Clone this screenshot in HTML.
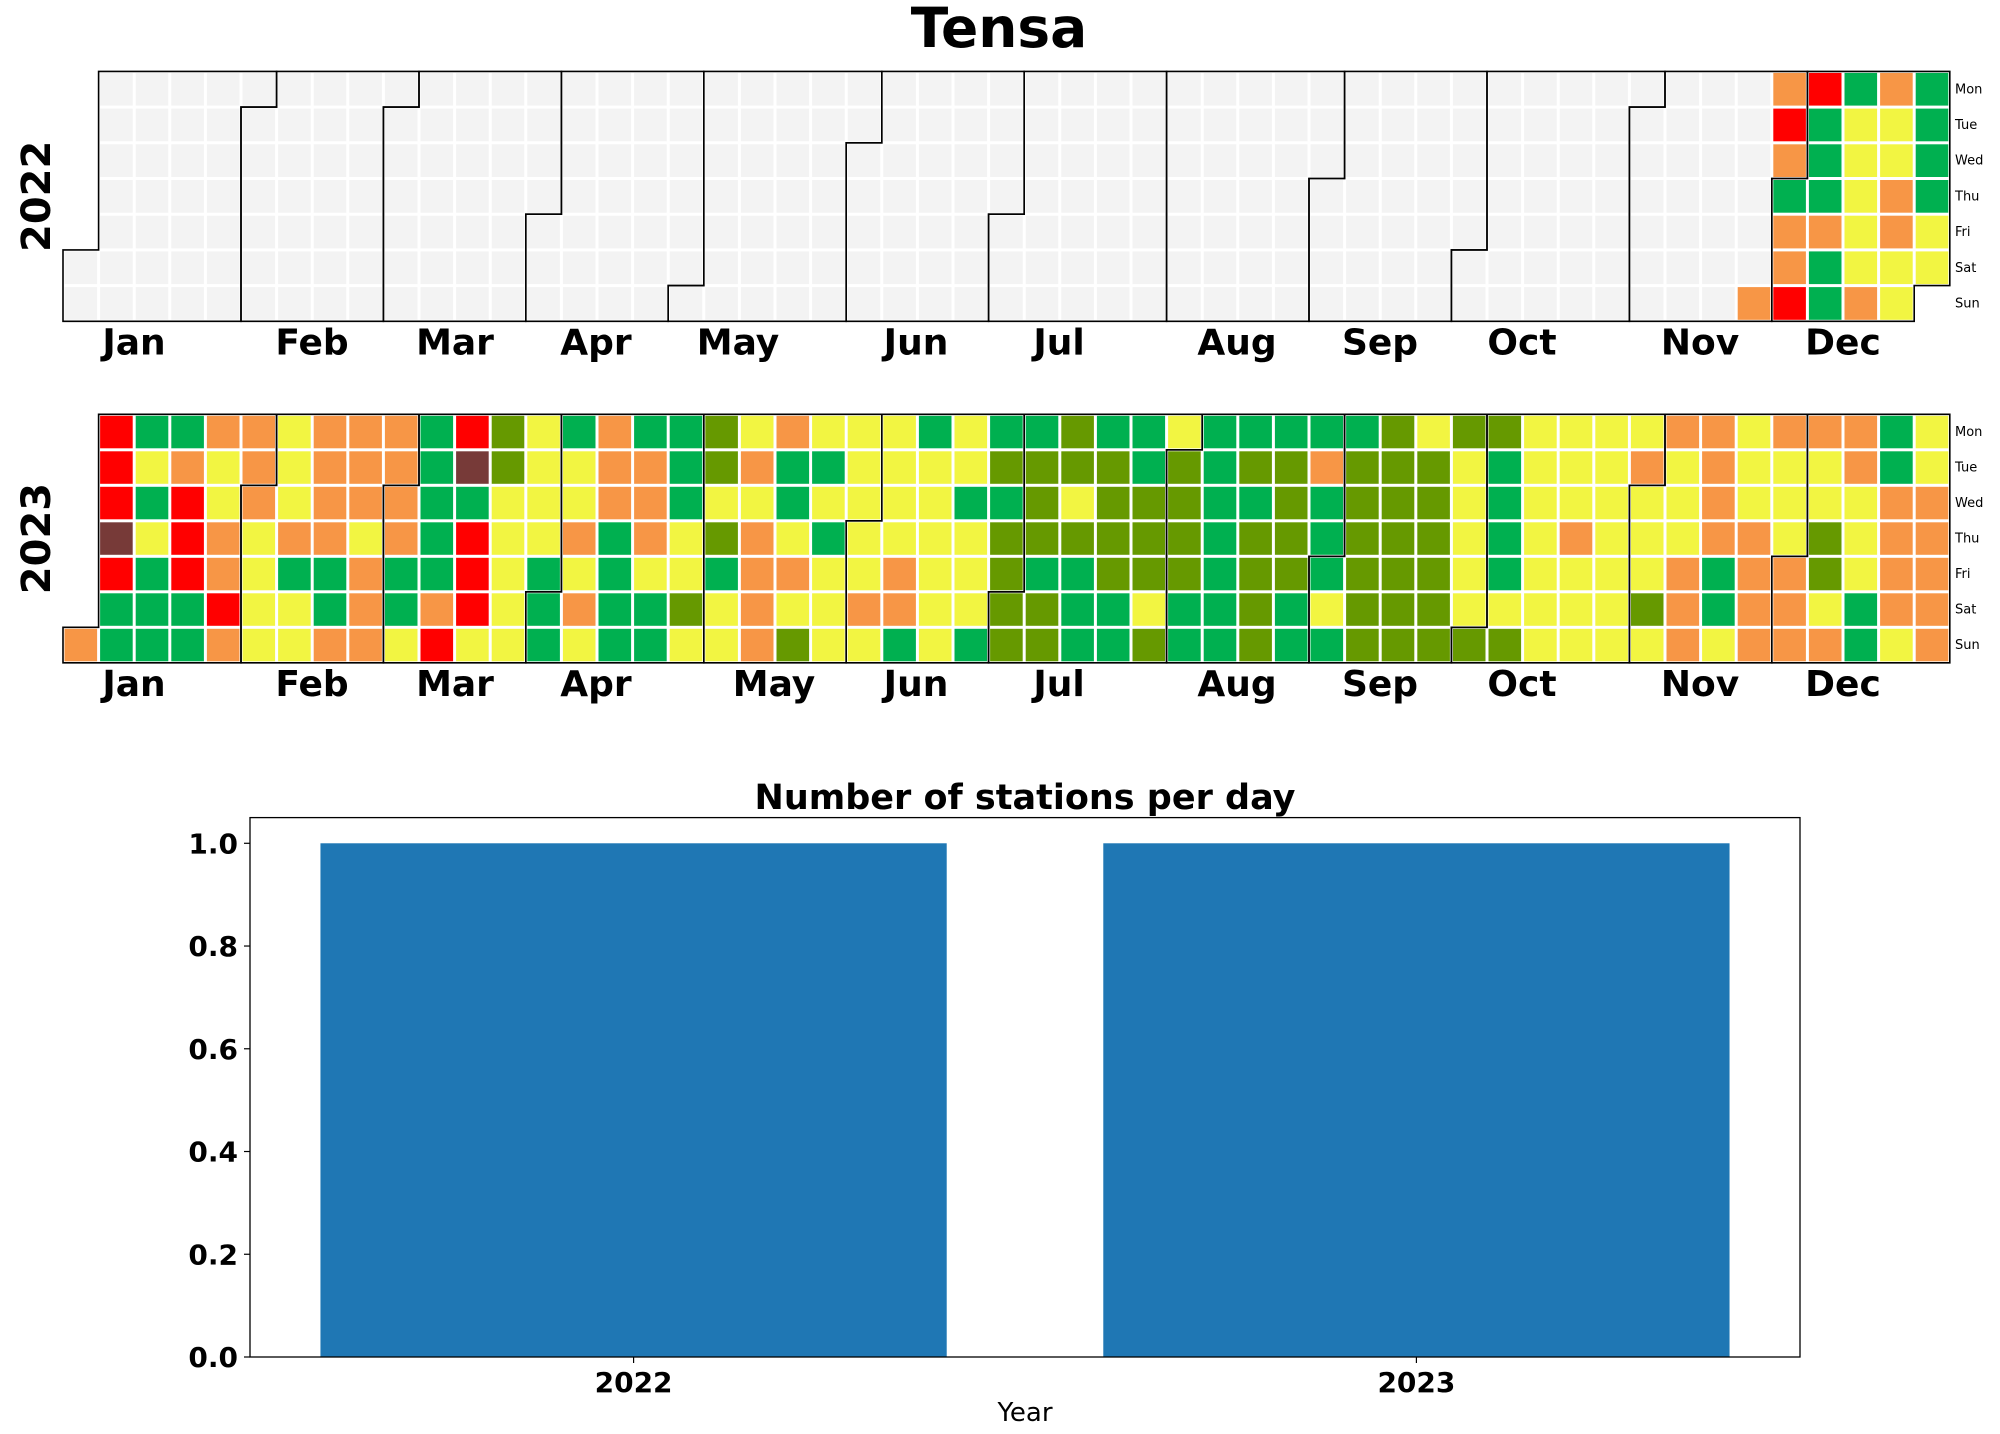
<!DOCTYPE html>
<html><head><meta charset="utf-8"><style>
html,body{margin:0;padding:0;background:#fff;}
svg{display:block;font-family:"DejaVu Sans","Liberation Sans",sans-serif;}
</style></head><body>
<svg id="chart" width="2000" height="1434" viewBox="0 0 2000 1434" xmlns="http://www.w3.org/2000/svg">
<rect x="0" y="0" width="2000" height="1434" fill="#fff"/>
<text x="999" y="47" font-size="55" font-weight="bold" text-anchor="middle">Tensa</text>
<g id="cal"></g>
<g id="bars"></g>
</svg>
<script>
// ---- calendar data: weekday rows (Mon..Sun), 53 week columns; '.' = no day, '-' = no data
const weekdays = ["Mon","Tue","Wed","Thu","Fri","Sat","Sun"];
const monthNames = ["Jan","Feb","Mar","Apr","May","Jun","Jul","Aug","Sep","Oct","Nov","Dec"];
const rows2022 = [
  "." + "-".repeat(47) + "ORGOG",
  "." + "-".repeat(47) + "RGYYG",
  "." + "-".repeat(47) + "OGYYG",
  "." + "-".repeat(47) + "GGYOG",
  "." + "-".repeat(47) + "OOYOY",
  "-" + "-".repeat(47) + "OGYYY",
  "-" + "-".repeat(46) + "ORGOY."
];
const rows2023 = [
  ".RGGOOYOOOGRLY" + "GOGGLYOYYYGYG" + "GLGGYGGGGGLYL" + "LYYYYOOYOOOGY",
  ".RYOYOYOOOGBLY" + "YOOGLOGGYYYYL" + "LLLGLGLLOLLLY" + "GYYYOYOYYYOGY",
  ".RGRYOYOOOGGYY" + "YOOGYYGYYYYGG" + "LYLLLGGLGLLLY" + "GYYYYYOYYYYOO",
  ".BYROYOOYOGRYY" + "OGOYLOYGYYYYL" + "LLLLLGLLGLLLY" + "GYOYYYOOYLYOO",
  ".RGROYGGOGGRYG" + "YGYYGOOYYOYYL" + "GGLLLGLLGLLLY" + "GYYYYOGOOLYOO",
  ".GGGRYYGOGORYG" + "OGGLYOYYOOYYL" + "LGGYGGLGYLLLY" + "YYYYLOGOOYGOO",
  "OGGGOYYOOYRYYG" + "YGGYYOLYYGYGL" + "LGGLGGLGGLLLL" + "LYYYYOYOOOGYO"
];
const monthLabelX2022 = [134,312,455,596,738,916,1059,1237,1380,1522,1700,1843];
const monthLabelX2023 = [134,312,455,596,774,916,1059,1237,1380,1522,1700,1843];
const colorMap = {R:"#ff0000",G:"#00b050",O:"#f79646",Y:"#f2f542",L:"#669900",B:"#773a38","-":"#f3f3f3"};

// ---- bar chart data
const barCategories = ["2022","2023"];
const barValues = [1,1];
const yTicks = [0,0.2,0.4,0.6,0.8,1.0];
const yTickLabels = ["0.0","0.2","0.4","0.6","0.8","1.0"];

const NS = "http://www.w3.org/2000/svg";
function mk(tag, attrs, parent){const e=document.createElementNS(NS,tag);for(const k in attrs)e.setAttribute(k,attrs[k]);parent.appendChild(e);return e;}

const cal = document.getElementById("cal");
const X0 = 63, PW = 35.6;
function drawYear(year, rows, y0, ph, labelXs, offset){
  const g = mk("g",{},cal);
  
  
  for(let r=0;r<7;r++){
    for(let c=0;c<53;c++){
      const ch = rows[r][c];
      if(!ch || ch===".") continue;
      const rect = mk("rect",{x:X0+c*PW+1.5,y:y0+r*ph+1.5,width:PW-3,height:ph-3,fill:colorMap[ch]},g);
      
      
    }
  }
  const leap = (year%4===0);
  const mdays=[31,leap?29:28,31,30,31,30,31,31,30,31,30,31];
  let d=0;
  for(let m=0;m<12;m++){
    const s=d+offset, e=d+mdays[m]-1+offset;
    const c1=Math.floor(s/7), r1=s%7, c2=Math.floor(e/7), r2=e%7;
    const px=c=>X0+c*PW, py=r=>y0+r*ph;
    const pts=[[c1,r1],[c1+1,r1],[c1+1,0],[c2+1,0],[c2+1,r2+1],[c2,r2+1],[c2,7],[c1,7]];
    const p = mk("path",{d:"M"+pts.map(q=>px(q[0]).toFixed(1)+","+py(q[1]).toFixed(1)).join("L")+"Z",fill:"none",stroke:"#000","stroke-width":1.6},g);
    
    
    d+=mdays[m];
  }
  for(let m=0;m<12;m++){
    const t = mk("text",{x:labelXs[m],y:y0+ph*7+33,"font-size":36,"font-weight":"bold","text-anchor":"middle"},g);
    t.textContent = monthNames[m];
    
    
  }
  for(let r=0;r<7;r++){
    const t = mk("text",{x:1955,y:y0+r*ph+ph/2+4,"font-size":13},g);
    t.textContent = weekdays[r];
    
    
  }
  const yc = y0+ph*3.5;
  const yl = mk("text",{x:0,y:0,"font-size":40,"font-weight":"bold","text-anchor":"middle",transform:"translate(50,"+yc+") rotate(-90)"},g);
  yl.textContent = String(year);
  
  
}
drawYear(2022, rows2022, 71.4, 35.7, monthLabelX2022, 5);
drawYear(2023, rows2023, 414.3, 35.5, monthLabelX2023, 6);

// ---- bar chart
const bars = document.getElementById("bars");
const AX_L=250, AX_R=1800, AX_T=817.6, AX_B=1357;
const xMin=-0.49, xMax=1.49, yMin=0, yMax=1.05;
const xs = v => AX_L + (v-xMin)/(xMax-xMin)*(AX_R-AX_L);
const ys = v => AX_B - (v-yMin)/(yMax-yMin)*(AX_B-AX_T);
barCategories.forEach((cat,i)=>{
  const b = mk("rect",{x:xs(i-0.4),y:ys(barValues[i]),width:xs(i+0.4)-xs(i-0.4),height:ys(0)-ys(barValues[i]),fill:"#1f77b4"},bars);
  
  
  mk("line",{x1:xs(i),x2:xs(i),y1:AX_B,y2:AX_B+6,stroke:"#000","stroke-width":1.2},bars);
  const t = mk("text",{x:xs(i),y:AX_B+35,"font-size":28,"font-weight":"bold","text-anchor":"middle"},bars);
  t.textContent = cat;
  
  
});
yTicks.forEach((v,i)=>{
  mk("line",{x1:AX_L-6,x2:AX_L,y1:ys(v),y2:ys(v),stroke:"#000","stroke-width":1.2},bars);
  const t = mk("text",{x:AX_L-12,y:ys(v)+10,"font-size":28,"font-weight":"bold","text-anchor":"end"},bars);
  t.textContent = yTickLabels[i];
  
  
});
const frame = mk("rect",{x:AX_L,y:AX_T,width:AX_R-AX_L,height:AX_B-AX_T,fill:"none",stroke:"#000","stroke-width":1.3},bars);


const bt = mk("text",{x:(AX_L+AX_R)/2,y:809,"font-size":35,"font-weight":"bold","text-anchor":"middle"},bars);
bt.textContent = "Number of stations per day";


const xl = mk("text",{x:(AX_L+AX_R)/2,y:1421,"font-size":26,"text-anchor":"middle"},bars);
xl.textContent = "Year";


</script>
</body></html>
